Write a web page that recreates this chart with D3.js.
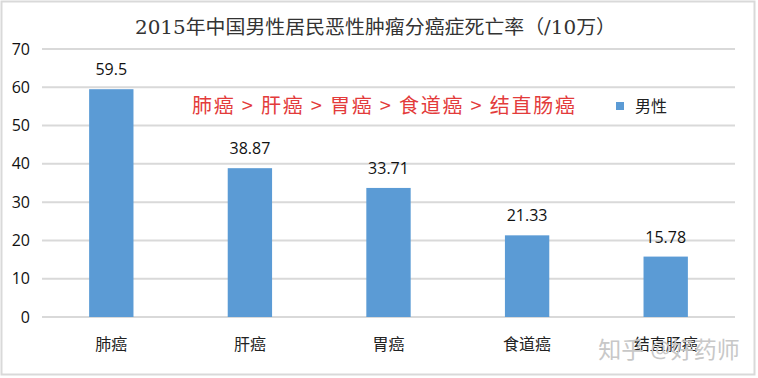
<!DOCTYPE html>
<html>
<head>
<meta charset="utf-8">
<script src="https://cdn.jsdelivr.net/npm/d3@7"></script>
<style>
  body { margin: 0; background: #fff; }
  text { font-family: "Open Sans", "Liberation Sans", "Noto Sans CJK SC", sans-serif; }
</style>
</head>
<body>
<div id="chart"></div>
<script>
var categories = ["肺癌", "肝癌", "胃癌", "食道癌", "结直肠癌"];
var values = [59.5, 38.87, 33.71, 21.33, 15.78];
var valueLabels = ["59.5", "38.87", "33.71", "21.33", "15.78"];
var yTicks = [0, 10, 20, 30, 40, 50, 60, 70];
var seriesName = "男性";
var titleText = "2015年中国男性居民恶性肿瘤分癌症死亡率（/10万）";
var noteText = "肺癌 > 肝癌 > 胃癌 > 食道癌 > 结直肠癌";
var watermark = "知乎 @好药师";

var totalW = 758, totalH = 378;
var margin = {top: 49, right: 23, bottom: 61, left: 42},
    width = totalW - margin.left - margin.right,
    height = totalH - margin.top - margin.bottom;

var svg = d3.select("#chart")
  .append("svg")
    .attr("width", totalW)
    .attr("height", totalH);

// outer frame
svg.append("rect")
    .attr("x", 1.5).attr("y", 1.5)
    .attr("width", 753).attr("height", 373)
    .attr("fill", "#fff")
    .attr("stroke", "#d9d9d9")
    .attr("stroke-width", 2);

svg.append("text")
    .attr("x", 135)
    .attr("y", 34)
    .attr("textLength", 481)
    .attr("lengthAdjust", "spacingAndGlyphs")
    .style("font-family", "'DejaVu Serif', 'Liberation Serif', 'Noto Sans CJK SC', serif")
    .style("font-size", "19px")
    .style("fill", "#333")
    .text(titleText);

var g = svg.append("g")
    .attr("transform", "translate(" + margin.left + "," + margin.top + ")");

var x = d3.scaleBand()
    .domain(categories)
    .range([0, width])
    .paddingInner(0.68)
    .paddingOuter(0.34);

var y = d3.scaleLinear()
    .domain([0, 70])
    .range([height, 0]);

// gridlines
g.append("g")
  .selectAll("line")
  .data(yTicks)
  .enter().append("line")
    .attr("x1", 0)
    .attr("x2", width)
    .attr("y1", function(d) { return y(d); })
    .attr("y2", function(d) { return y(d); })
    .attr("stroke", "#d9d9d9")
    .attr("stroke-width", 2);

// y axis labels
g.append("g")
  .selectAll("text")
  .data(yTicks)
  .enter().append("text")
    .attr("x", -12)
    .attr("y", function(d) { return y(d); })
    .attr("dy", "0.35em")
    .attr("text-anchor", "end")
    .style("font-size", "16px")
    .style("fill", "#111")
    .text(function(d) { return d; });

// bars
g.append("g")
  .selectAll("rect")
  .data(values)
  .enter().append("rect")
    .attr("x", function(d, i) { return x(categories[i]); })
    .attr("y", function(d) { return y(d); })
    .attr("width", x.bandwidth())
    .attr("height", function(d) { return height - y(d); })
    .attr("fill", "#5b9bd5");

// value labels
g.append("g")
  .selectAll("text")
  .data(values)
  .enter().append("text")
    .attr("x", function(d, i) { return x(categories[i]) + x.bandwidth() / 2; })
    .attr("y", function(d) { return y(d) - 14; })
    .attr("text-anchor", "middle")
    .style("font-size", "16px")
    .style("fill", "#111")
    .text(function(d, i) { return valueLabels[i]; });

// watermark (behind category labels)
svg.append("text")
    .attr("x", 669)
    .attr("y", 358)
    .attr("text-anchor", "middle")
    .style("font-size", "23px")
    .style("fill", "#c8c8c8")
    .text(watermark);

// category labels
g.append("g")
  .selectAll("text")
  .data(categories)
  .enter().append("text")
    .attr("x", function(d) { return x(d) + x.bandwidth() / 2; })
    .attr("y", height + 33)
    .attr("text-anchor", "middle")
    .style("font-family", "'Noto Sans CJK SC', sans-serif")
    .style("font-size", "16px")
    .style("fill", "#222")
    .text(function(d) { return d; });

// red note
svg.append("text")
    .attr("x", 192)
    .attr("y", 113)
    .attr("textLength", 383)
    .attr("lengthAdjust", "spacing")
    .style("font-family", "'Noto Sans CJK SC', sans-serif")
    .style("font-size", "20px")
    .style("fill", "#e33b3b")
    .text(noteText);

// legend
svg.append("rect")
    .attr("x", 616)
    .attr("y", 102)
    .attr("width", 8)
    .attr("height", 8)
    .attr("fill", "#5b9bd5");

svg.append("text")
    .attr("x", 635)
    .attr("y", 106)
    .attr("dy", "0.35em")
    .style("font-family", "'Noto Sans CJK SC', sans-serif")
    .style("font-size", "16px")
    .style("fill", "#222")
    .text(seriesName);
</script>
</body>
</html>
